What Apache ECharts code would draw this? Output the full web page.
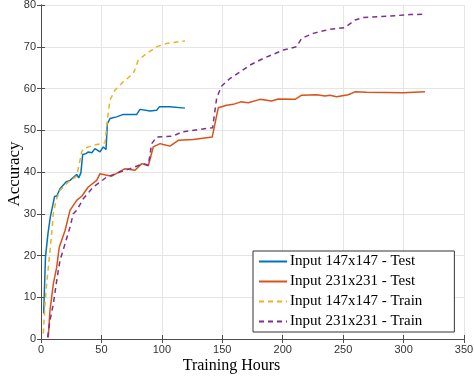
<!DOCTYPE html>
<html>
<head>
<meta charset="UTF-8">
<title>Accuracy vs Training Hours</title>
<style>
  html, body { margin: 0; padding: 0; background: #fff; }
  #chart { width: 474px; height: 377px; }
</style>
</head>
<body>
<div id="chart"></div>
<script src="https://cdn.jsdelivr.net/npm/echarts@6/dist/echarts.min.js"></script>
<script>
// x ticks / y ticks
var xTicks = [0, 50, 100, 150, 200, 250, 300, 350];
var yTicks = [0, 10, 20, 30, 40, 50, 60, 70, 80];

var seriesNames = ['Input 147x147 - Test', 'Input 231x231 - Test', 'Input 147x147 - Train', 'Input 231x231 - Train'];

// [hours, accuracy]
var test147 = [[2.2,6.1],[3.7,19.6],[5.8,25.3],[7.7,29.2],[11.3,34.2],[13,34.2],[15.7,36],[20.7,37.6],[24,38],
  [29.5,39.4],[31.2,38.6],[33,39.8],[34.5,44.2],[37.2,44.4],[39.1,44.8],[42,44.6],[44.7,45.6],[48.8,44.8],
  [51.5,46],[53.8,45.4],[54.9,51.6],[57.1,52.8],[62.6,53.2],[68.1,53.8],[79.2,53.8],[80.5,53.6],[81.9,55],
  [90.2,54.6],[95.7,54.8],[97.9,55.6],[106.7,55.6],[119.1,55.3]];

var test231 = [[6,0.4],[7.4,6.8],[10.2,13.2],[13,17.2],[15.1,22],[19.9,26],[24,30.8],[29.5,33.2],[33.7,34.2],
  [39.1,36.4],[46.1,38],[48.8,39.6],[58.5,39],[69.5,40.8],[77.8,40.4],[83.3,42],[88.8,41.5],[92.9,46],
  [98.5,46.8],[101.2,46.6],[106.7,46.2],[113.6,47.6],[126,47.8],[141.7,48.4],[146.7,55.4],[153.6,56],
  [159.1,56.2],[165.3,56.8],[171.5,56.6],[181.2,57.4],[190.8,57],[196.4,57.5],[210.2,57.4],[215.7,58.4],
  [228.1,58.5],[235,58.2],[239.1,58.4],[244.6,58],[254.3,58.5],[259.8,59.2],[269.5,59.1],[299.8,59],[317.7,59.2]];

var train147 = [[1.9,1.3],[3.3,8.5],[4.7,13.2],[6.9,19.6],[8.8,25.2],[10.2,30],[12.4,33.2],[15.7,35.6],
  [22.6,37.6],[29.5,39],[33.7,44.8],[35,45.6],[43.3,46.4],[53,47],[54.9,52.4],[57,57.2],[61.2,59.6],
  [68.1,61.6],[76.4,63.6],[80.5,66.8],[87.5,68.4],[95.7,70],[104,70.8],[119.1,71.4]];

var train231 = [[5.5,0.4],[7.4,4.4],[10.2,8.4],[13,14],[15.7,18.8],[19.9,22.8],[24,26.8],[26.7,30],
  [29.5,30.8],[35,33.6],[43.3,36.4],[54.4,38.8],[65.4,40],[73.6,40.8],[84.6,42],[88.8,41.6],[91.6,46.8],
  [95.7,48.4],[109.5,48.6],[116.4,49.6],[131.6,50.2],[142,50.6],[145.4,57.8],[149.5,60.6],[156.4,62.4],
  [164.7,64],[172.9,65.6],[183.9,67.2],[200.4,69.2],[211.4,70],[215.6,72],[225.2,73.2],[239.1,74.2],
  [251.5,74.6],[259.8,76.4],[266.7,77],[286,77.3],[305.3,77.7],[317.7,77.8]];

var colors = ['#0072BD', '#D95319', '#EDB120', '#7E2F8E'];
var axisColor = '#4d4d4d';

var chart = echarts.init(document.getElementById('chart'));

function mkLine(name, data, color, dashed) {
  return {
    name: name,
    type: 'line',
    data: data,
    symbol: 'none',
    lineStyle: { color: color, width: 1.5, type: dashed ? [5, 4] : 'solid' },
    itemStyle: { color: color }
  };
}

var option = {
  animation: false,
  grid: { left: 41, right: 10, top: 5, bottom: 38, outerBoundsMode: 'none', containLabel: false },
  legend: {
    orient: 'vertical',
    left: 253,
    top: 251,
    data: seriesNames,
    itemWidth: 28,
    itemHeight: 14,
    itemGap: 5,
    padding: [3, 32, 3, 5],
    backgroundColor: '#fff',
    borderColor: '#333',
    borderWidth: 1,
    itemStyle: { opacity: 0 },
    textStyle: { fontFamily: 'Liberation Serif', fontSize: 15, lineHeight: 14, color: '#000', padding: [0, 0, 0, -2] }
  },
  xAxis: [{
    type: 'value', min: 0, max: 350, interval: 50,
    name: 'Training Hours', nameLocation: 'middle', nameGap: 19, nameMoveOverlap: false,
    nameTextStyle: { fontFamily: 'Liberation Serif', fontSize: 16, color: '#000', padding: [0, 42, 0, 0] },
    axisLine: { show: true, lineStyle: { color: axisColor } },
    axisTick: { show: true, inside: true, length: 4, lineStyle: { color: axisColor } },
    axisLabel: { fontFamily: 'Liberation Sans', fontSize: 11, color: '#333', margin: 5,
      formatter: function (v) { return xTicks.indexOf(v) >= 0 ? v : ''; } },
    splitLine: { show: true, lineStyle: { color: '#e5e5e5' } }
  }, {
    type: 'value', min: 0, max: 350, interval: 50, position: 'top',
    axisLine: { show: true, lineStyle: { color: axisColor } },
    axisTick: { show: true, inside: true, length: 4, lineStyle: { color: axisColor } },
    axisLabel: { show: false }, splitLine: { show: false }
  }],
  yAxis: [{
    type: 'value', min: 0, max: 80, interval: 10,
    name: 'Accuracy', nameLocation: 'middle', nameGap: 18, nameMoveOverlap: false,
    nameTextStyle: { fontFamily: 'Liberation Serif', fontSize: 17, color: '#000', padding: [0, 4, 0, 0] },
    axisLine: { show: true, lineStyle: { color: axisColor } },
    axisTick: { show: true, inside: true, length: 4, lineStyle: { color: axisColor } },
    axisLabel: { fontFamily: 'Liberation Sans', fontSize: 11, color: '#333', margin: 5,
      formatter: function (v) { return yTicks.indexOf(v) >= 0 ? v : ''; } },
    splitLine: { show: true, lineStyle: { color: '#e5e5e5' } }
  }, {
    type: 'value', min: 0, max: 80, interval: 10, position: 'right',
    axisLine: { show: true, lineStyle: { color: axisColor } },
    axisTick: { show: true, inside: true, length: 4, lineStyle: { color: axisColor } },
    axisLabel: { show: false }, splitLine: { show: false }
  }],
  series: [
    mkLine(seriesNames[0], test147, colors[0], false),
    mkLine(seriesNames[1], test231, colors[1], false),
    mkLine(seriesNames[2], train147, colors[2], true),
    mkLine(seriesNames[3], train231, colors[3], true)
  ]
};

chart.setOption(option);
</script>
</body>
</html>
